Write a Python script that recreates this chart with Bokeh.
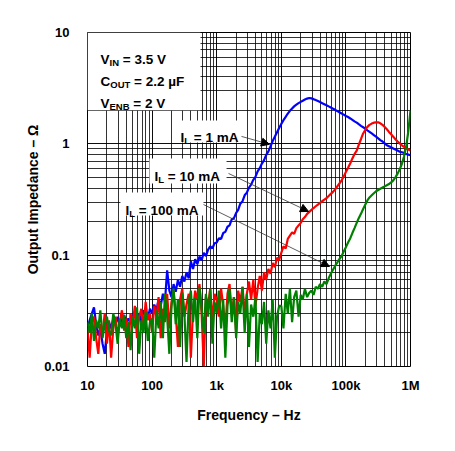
from bokeh.plotting import figure
from bokeh.models import Range1d, FixedTicker, Label, BoxAnnotation, Arrow, NormalHead
from bokeh.embed import file_html
from bokeh.resources import INLINE

# ---------------- data ----------------
mantissa = [1.00, 1.08, 1.17, 1.26, 1.36, 1.47, 1.58, 1.71, 1.85, 2.00,
            2.15, 2.32, 2.51, 2.71, 2.93, 3.16, 3.41, 3.69, 3.98, 4.30,
            4.64, 5.01, 5.41, 5.84, 6.31, 6.81, 7.36, 7.94, 8.58, 9.26]
decades = [10, 100, 1000, 10000, 100000]
freq = [m * d for d in decades for m in mantissa] + [1000000]

blue_a = [0.022, 0.026, 0.030, 0.034, 0.024, 0.019, 0.022, 0.016, 0.013, 0.021,
          0.025, 0.022, 0.027, 0.024, 0.028, 0.023, 0.026, 0.029, 0.025, 0.027,
          0.024, 0.028, 0.031, 0.026, 0.030, 0.025, 0.032, 0.029, 0.027, 0.033]
blue_b = [0.030, 0.036, 0.032, 0.040, 0.035, 0.045, 0.038, 0.073, 0.048, 0.042,
          0.055, 0.047, 0.060, 0.052, 0.065, 0.058, 0.070, 0.062, 0.088, 0.075,
          0.092, 0.083, 0.097, 0.090, 0.105, 0.098, 0.112, 0.120, 0.115, 0.128]
blue_c = [0.130, 0.142, 0.140, 0.158, 0.162, 0.180, 0.185, 0.210, 0.215, 0.240,
          0.255, 0.290, 0.305, 0.345, 0.365, 0.405, 0.430, 0.475, 0.505, 0.565,
          0.605, 0.665, 0.715, 0.795, 0.855, 0.950, 1.06, 1.16, 1.27, 1.39]
blue_d = [1.51, 1.63, 1.75, 1.87, 1.98, 2.08, 2.17, 2.25, 2.32, 2.38,
          2.44, 2.50, 2.55, 2.58, 2.56, 2.52, 2.47, 2.42, 2.37, 2.32,
          2.27, 2.22, 2.17, 2.12, 2.07, 2.02, 1.97, 1.92, 1.87, 1.83, 1.78]
blue_e = [1.74, 1.69, 1.64, 1.59, 1.55, 1.50, 1.45, 1.41, 1.36, 1.32,
          1.28, 1.24, 1.20, 1.16, 1.12, 1.08, 1.05, 1.01, 0.97, 0.95,
          0.93, 0.91, 0.89, 0.87, 0.85, 0.84, 0.83, 0.81, 0.80, 0.79]

red_a = [0.022, 0.012, 0.025, 0.028, 0.018, 0.013, 0.024, 0.020, 0.030, 0.016,
         0.026, 0.012, 0.022, 0.028, 0.019, 0.025, 0.032, 0.021, 0.027, 0.015,
         0.030, 0.024, 0.035, 0.018, 0.028, 0.033, 0.022, 0.038, 0.026, 0.030]
red_b = [0.020, 0.035, 0.028, 0.042, 0.018, 0.033, 0.025, 0.045, 0.022, 0.038,
         0.048, 0.030, 0.015, 0.040, 0.050, 0.028, 0.036, 0.045, 0.012, 0.032,
         0.048, 0.040, 0.055, 0.030, 0.010, 0.042, 0.035, 0.050, 0.025, 0.045]
red_c = [0.040, 0.028, 0.050, 0.035, 0.022, 0.045, 0.055, 0.030, 0.042, 0.020,
         0.048, 0.038, 0.052, 0.030, 0.045, 0.058, 0.040, 0.060, 0.035, 0.050,
         0.065, 0.048, 0.070, 0.060, 0.075, 0.068, 0.085, 0.078, 0.095, 0.090]
red_d = [0.105, 0.120, 0.115, 0.140, 0.150, 0.160, 0.155, 0.175, 0.185, 0.195,
         0.210, 0.220, 0.235, 0.245, 0.255, 0.265, 0.275, 0.285, 0.295, 0.305,
         0.315, 0.325, 0.340, 0.355, 0.370, 0.390, 0.415, 0.440, 0.470, 0.510, 0.560]
red_e = [0.61, 0.67, 0.74, 0.81, 0.87, 0.98, 1.10, 1.24, 1.34, 1.42,
         1.48, 1.52, 1.55, 1.56, 1.56, 1.53, 1.48, 1.42, 1.35, 1.28,
         1.22, 1.16, 1.10, 1.05, 1.01, 0.97, 0.94, 0.91, 0.89, 0.87]

green_a = [0.025, 0.020, 0.030, 0.017, 0.026, 0.022, 0.032, 0.018, 0.024, 0.028,
           0.021, 0.019, 0.030, 0.024, 0.016, 0.027, 0.022, 0.029, 0.018, 0.025,
           0.014, 0.028, 0.022, 0.034, 0.013, 0.026, 0.020, 0.031, 0.017, 0.025]
green_b = [0.027, 0.012, 0.032, 0.022, 0.038, 0.018, 0.045, 0.028, 0.013, 0.035,
           0.050, 0.024, 0.040, 0.015, 0.046, 0.030, 0.011, 0.038, 0.048, 0.025,
           0.042, 0.018, 0.052, 0.033, 0.020, 0.045, 0.028, 0.050, 0.016, 0.038]
green_c = [0.030, 0.048, 0.022, 0.040, 0.012, 0.035, 0.050, 0.025, 0.042, 0.018,
           0.038, 0.030, 0.052, 0.020, 0.045, 0.015, 0.036, 0.028, 0.042, 0.011,
           0.030, 0.024, 0.038, 0.016, 0.032, 0.022, 0.040, 0.012, 0.028, 0.035]
green_d = [0.035, 0.022, 0.045, 0.030, 0.050, 0.025, 0.042, 0.048, 0.028, 0.044,
           0.040, 0.050, 0.042, 0.046, 0.048, 0.044, 0.052, 0.050, 0.055, 0.052,
           0.058, 0.055, 0.062, 0.068, 0.074, 0.080, 0.086, 0.092, 0.098, 0.108]
green_e = [0.118, 0.130, 0.142, 0.158, 0.175, 0.195, 0.215, 0.235, 0.260, 0.285,
           0.310, 0.330, 0.345, 0.360, 0.375, 0.385, 0.395, 0.405, 0.415, 0.425,
           0.435, 0.450, 0.470, 0.500, 0.540, 0.590, 0.660, 0.770, 0.950, 1.30, 2.0]

z_1mA = blue_a + blue_b + blue_c + blue_d + blue_e
z_10mA = red_a + red_b + red_c + red_d + red_e
z_100mA = green_a + green_b + green_c + green_d + green_e

x_ticks = [10, 100, 1000, 10000, 100000, 1000000]
x_tick_labels = ["10", "100", "1k", "10k", "100k", "1M"]
y_ticks = [0.01, 0.1, 1, 10]
y_tick_labels = ["0.01", "0.1", "1", "10"]

FONT = "Liberation Sans"

# ---------------- figure ----------------
p = figure(width=447, height=443, x_axis_type="log", y_axis_type="log",
           x_range=Range1d(10, 1e6), y_range=Range1d(0.01, 10),
           output_backend="svg", toolbar_location=None,
           min_border_left=87, min_border_right=37, min_border_top=32, min_border_bottom=77)
p.background_fill_color = "white"
p.border_fill_color = "white"
p.outline_line_color = "black"
p.outline_line_width = 1
p.outline_line_alpha = 1

x_minor = [m * d for d in decades for m in range(2, 10)]
y_minor = [m * d for d in [0.01, 0.1, 1] for m in range(2, 10)]
xt = FixedTicker(ticks=x_ticks, minor_ticks=x_minor)
yt = FixedTicker(ticks=y_ticks, minor_ticks=y_minor)
p.xaxis.ticker = xt
p.yaxis.ticker = yt
p.xgrid.ticker = xt
p.ygrid.ticker = yt
p.xaxis.major_label_overrides = dict(zip(x_ticks, x_tick_labels))
p.yaxis.major_label_overrides = dict(zip(y_ticks, y_tick_labels))

for g in (p.xgrid, p.ygrid):
    g.grid_line_color = "black"
    g.grid_line_alpha = 0.95
    g.grid_line_width = 1
    g.minor_grid_line_color = "black"
    g.minor_grid_line_alpha = 0.8
    g.minor_grid_line_width = 1

for ax in (p.xaxis, p.yaxis):
    ax.axis_line_color = None
    ax.major_tick_line_color = None
    ax.minor_tick_line_color = None
    ax.major_label_text_font = FONT
    ax.major_label_text_font_style = "bold"
    ax.major_label_text_font_size = "13px"
    ax.major_label_text_color = "black"
    ax.axis_label_text_font = FONT
    ax.axis_label_text_font_style = "bold"
    ax.axis_label_text_font_size = "14px"
    ax.axis_label_text_color = "black"

p.xaxis.axis_label = "Frequency – Hz"
p.yaxis.axis_label = "Output Impedance – Ω"
p.xaxis.major_label_standoff = 5
p.xaxis.axis_label_standoff = 11
p.yaxis.major_label_standoff = 12
p.yaxis.axis_label_standoff = 0

p.line(freq, z_1mA, line_color="#0000ff", line_width=2.2)
p.line(freq, z_10mA, line_color="#ff0000", line_width=2.2)
p.line(freq, z_100mA, line_color="#008000", line_width=2.2)

# ---------------- annotations ----------------
for (l, r, t, b) in [(10, 561, 10, 2.0), (207, 2690, 1.62, 1.03),
                     (91, 1420, 0.74, 0.44), (32.4, 625, 0.365, 0.227)]:
    p.add_layout(BoxAnnotation(left=l, right=r, top=t, bottom=b,
                               fill_color="white", fill_alpha=1, line_color=None))

W = {' ': 278, '=': 584, '.': 278, 'A': 722, 'B': 722, 'C': 722, 'E': 667, 'F': 611,
     'I': 278, 'L': 611, 'N': 722, 'O': 778, 'T': 611, 'U': 722, 'V': 667, 'm': 889, 'µ': 611}
for d in "0123456789":
    W[d] = 556


def tw(s, size):
    return sum(W.get(c, 600) for c in s) * size / 1000.0


def rich(x, y, parts):
    off = 0.0
    for txt, size, dy in parts:
        stripped = txt.lstrip(" ")
        off += tw(txt[:len(txt) - len(stripped)], size)
        p.add_layout(Label(x=x, y=y, x_offset=off, y_offset=dy, text=stripped,
                           text_font=FONT, text_font_style="bold",
                           text_font_size=f"{size}px", text_color="black",
                           text_baseline="alphabetic", text_align="left"))
        off += tw(stripped, size)


S, s = 13.5, 9.5
rich(15.9, 5.77, [("V", S, 0), ("IN", s, -3), (" = 3.5 V", S, 0)])
rich(15.9, 3.64, [("C", S, 0), ("OUT", s, -3), (" = 2.2 µF", S, 0)])
rich(15.9, 2.32, [("V", S, 0), ("ENB", s, -3), (" = 2 V", S, 0)])
rich(275, 1.13, [("I", S, 0), ("L", s, -3), (" = 1 mA", S, 0)])
rich(109, 0.513, [("I", S, 0), ("L", s, -3), (" = 10 mA", S, 0)])
rich(38.7, 0.252, [("I", S, 0), ("L", s, -3), (" = 100 mA", S, 0)])

for (xs, ys, xe, ye) in [(2420, 1.166, 6560, 0.99), (1524, 0.542, 26400, 0.247),
                         (625, 0.285, 55700, 0.0791)]:
    p.add_layout(Arrow(x_start=xs, y_start=ys, x_end=xe, y_end=ye,
                       line_color="#333333", line_width=0.8,
                       end=NormalHead(size=8, fill_color="black", line_color="black")))

open("out.html", "w").write(file_html(p, INLINE))
